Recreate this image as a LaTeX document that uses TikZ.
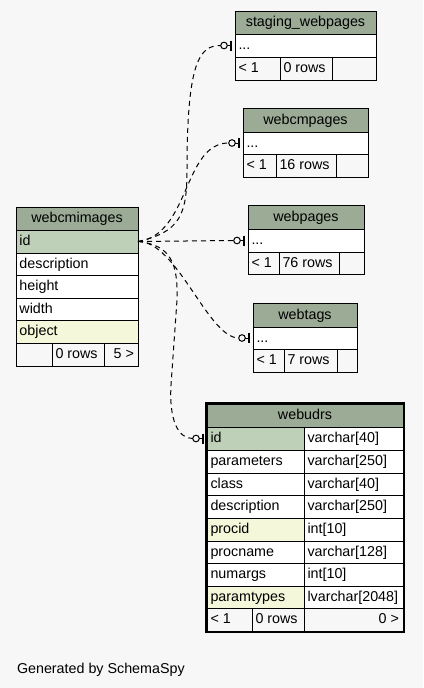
\documentclass[tikz,border=0pt]{standalone}
\usepackage{fontspec}
\setmainfont{Liberation Sans}
\definecolor{bg}{HTML}{F7F7F7}
\definecolor{head}{HTML}{9BAB96}
\definecolor{pk}{HTML}{BED1B8}
\definecolor{idx}{HTML}{F4F7DA}
\tikzset{
  cellbox/.style={draw=black, line width=1pt, inner sep=0pt, outer sep=0pt, anchor=north west},
  txt/.style={inner sep=0pt, outer sep=0pt, font=\fontsize{14.3}{16}\selectfont, text height=11.5pt, text depth=3.5pt},
  fk/.style={draw=black, line width=1pt, dash pattern=on 5pt off 4pt},
  zomark/.style={draw=black, line width=1pt},
  zobar/.style={draw=black, line width=2.5pt},
  focusbox/.style={draw=black, line width=2pt, inner sep=0pt, outer sep=0pt, anchor=north west}
}
\newcommand\cellbg[6]{\pgfmathsetmacro\cw{#4-#2}\pgfmathsetmacro\chh{#5-#3}%
  \node[cellbox, fill=#6, minimum width=\cw pt, minimum height=\chh pt] (#1) at (#2,#3) {};}
\newcommand\lcell[7]{\cellbg{#1}{#2}{#3}{#4}{#5}{#6}\node[txt, anchor=west] (#1-t) at ([xshift=3.5pt]#1.west) {#7};}
\newcommand\ccell[7]{\cellbg{#1}{#2}{#3}{#4}{#5}{#6}\node[txt, anchor=center] (#1-t) at (#1.center) {#7};}
\newcommand\rcell[7]{\cellbg{#1}{#2}{#3}{#4}{#5}{#6}\node[txt, anchor=east] (#1-t) at ([xshift=-4pt]#1.east) {#7};}
\newcommand\zeroone[1]{%
  \coordinate (#1-end) at ([xshift=-14.3pt]#1.west);
  \draw[zomark] ([xshift=-11pt]#1.west) circle[radius=3.3pt];
  \draw[zomark] ([xshift=-7.7pt]#1.west) -- ([xshift=-3pt]#1.west);
  \draw[zobar] ([xshift=-4pt,yshift=5pt]#1.west) -- ([xshift=-4pt,yshift=-5pt]#1.west);}
\begin{document}
\begin{tikzpicture}[x=1pt,y=-1pt]
\fill[bg] (0,0) rectangle (423,688);
\useasboundingbox (0,0) rectangle (423,688);

% webcmimages
\ccell{wi-h}{16}{207}{138}{230}{head}{webcmimages}
\lcell{wi-id}{16}{230}{138}{253}{pk}{id}
\lcell{wi-desc}{16}{253}{138}{275}{white}{description}
\lcell{wi-height}{16}{275}{138}{298}{white}{height}
\lcell{wi-width}{16}{298}{138}{320}{white}{width}
\lcell{wi-obj}{16}{320}{138}{343}{idx}{object}
\lcell{wi-f1}{16}{343}{52}{366}{bg}{}
\lcell{wi-f2}{52}{343}{104}{366}{bg}{0 rows}
\rcell{wi-f3}{104}{343}{138}{366}{bg}{5 >}

% staging_webpages
\ccell{sw-h}{235}{11}{376}{34}{head}{staging\_webpages}
\lcell{sw-r}{235}{34}{376}{57}{white}{...}
\lcell{sw-f1}{235}{57}{280}{80}{bg}{< 1}
\lcell{sw-f2}{280}{57}{332}{80}{bg}{0 rows}
\rcell{sw-f3}{332}{57}{376}{80}{bg}{}

% webcmpages
\ccell{wc-h}{243}{108}{368}{132}{head}{webcmpages}
\lcell{wc-r}{243}{132}{368}{154}{white}{...}
\lcell{wc-f1}{243}{154}{276}{177}{bg}{< 1}
\lcell{wc-f2}{276}{154}{336}{177}{bg}{16 rows}
\rcell{wc-f3}{336}{154}{368}{177}{bg}{}

% webpages
\ccell{wp-h}{248}{205}{364}{229}{head}{webpages}
\lcell{wp-r}{248}{229}{364}{252}{white}{...}
\lcell{wp-f1}{248}{252}{279}{274}{bg}{< 1}
\lcell{wp-f2}{279}{252}{339}{274}{bg}{76 rows}
\rcell{wp-f3}{339}{252}{364}{274}{bg}{}

% webtags
\ccell{wt-h}{253}{303}{357}{327}{head}{webtags}
\lcell{wt-r}{253}{327}{357}{349}{white}{...}
\lcell{wt-f1}{253}{349}{284}{372}{bg}{< 1}
\lcell{wt-f2}{284}{349}{337}{372}{bg}{7 rows}
\rcell{wt-f3}{337}{349}{357}{372}{bg}{}

% webudrs
\ccell{wu-h}{207}{404}{403}{427}{head}{webudrs}
\lcell{wu-id}{207}{427}{304}{450}{pk}{id}
\lcell{wu-idt}{304}{427}{403}{450}{white}{varchar[40]}
\lcell{wu-par}{207}{450}{304}{473}{white}{parameters}
\lcell{wu-part}{304}{450}{403}{473}{white}{varchar[250]}
\lcell{wu-cls}{207}{473}{304}{495}{white}{class}
\lcell{wu-clst}{304}{473}{403}{495}{white}{varchar[40]}
\lcell{wu-desc}{207}{495}{304}{518}{white}{description}
\lcell{wu-desct}{304}{495}{403}{518}{white}{varchar[250]}
\lcell{wu-pid}{207}{518}{304}{541}{idx}{procid}
\lcell{wu-pidt}{304}{518}{403}{541}{white}{int[10]}
\lcell{wu-pn}{207}{541}{304}{563}{white}{procname}
\lcell{wu-pnt}{304}{541}{403}{563}{white}{varchar[128]}
\lcell{wu-na}{207}{563}{304}{586}{white}{numargs}
\lcell{wu-nat}{304}{563}{403}{586}{white}{int[10]}
\lcell{wu-pt}{207}{586}{304}{608}{idx}{paramtypes}
\lcell{wu-ptt}{304}{586}{403}{608}{white}{lvarchar[2048]}
\lcell{wu-f1}{207}{608}{252}{631}{bg}{< 1}
\lcell{wu-f2}{252}{608}{304}{631}{bg}{0 rows}
\rcell{wu-f3}{304}{608}{403}{631}{bg}{0 >}
\node[focusbox, minimum width=198pt, minimum height=229pt] (wu) at (206,403) {};

% relationship end marks
\zeroone{sw-r}
\zeroone{wc-r}
\zeroone{wp-r}
\zeroone{wt-r}
\zeroone{wu-id}

% connectors
\draw[fk] (wi-id.east) .. controls (180,232) and (187,215) .. (187,170) .. controls (187,60) and (200,45.5) .. (sw-r-end);
\draw[fk] (wi-id.east) .. controls (190,235) and (183,143) .. (wc-r-end);
\draw[fk] (wi-id.east) -- (wp-r-end);
\draw[fk] (wi-id.east) .. controls (177,241) and (208,338) .. (wt-r-end);
\draw[fk] (wi-id.east) .. controls (172,245) and (178,265) .. (177,300) -- (171,385) .. controls (169,420) and (178,438.5) .. (wu-id-end);

\node[txt, anchor=base west] (gen) at (17,673) {Generated by SchemaSpy};
\end{tikzpicture}
\end{document}
